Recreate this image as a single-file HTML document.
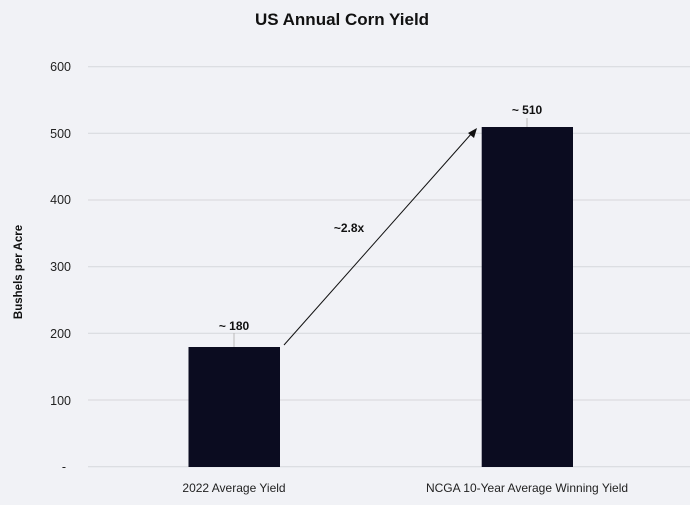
<!DOCTYPE html>
<html><head><style>
body{margin:0;background:#f1f2f6;}
svg{display:block;font-family:"Liberation Sans",sans-serif;}
</style></head><body>
<svg width="690" height="505" viewBox="0 0 690 505">
<rect width="690" height="505" fill="#f1f2f6"/>
<text x="342" y="25" text-anchor="middle" font-size="17" font-weight="bold" fill="#111">US Annual Corn Yield</text>
<g stroke="#d6d7db" stroke-width="1">
<line x1="88" x2="690" y1="66.7" y2="66.7"/>
<line x1="88" x2="690" y1="133.3" y2="133.3"/>
<line x1="88" x2="690" y1="200" y2="200"/>
<line x1="88" x2="690" y1="266.7" y2="266.7"/>
<line x1="88" x2="690" y1="333.3" y2="333.3"/>
<line x1="88" x2="690" y1="400" y2="400"/>
<line x1="88" x2="690" y1="466.7" y2="466.7"/>
</g>
<g font-size="12.5" fill="#222" text-anchor="end">
<text x="71" y="71">600</text>
<text x="71" y="138">500</text>
<text x="71" y="204">400</text>
<text x="71" y="271">300</text>
<text x="71" y="338">200</text>
<text x="71" y="405">100</text>
<text x="66" y="471">-</text>
</g>
<text transform="translate(22,272) rotate(-90)" text-anchor="middle" font-size="11.5" font-weight="bold" fill="#111">Bushels per Acre</text>
<rect x="188.5" y="347" width="91.5" height="120" fill="#0b0c20"/>
<rect x="481.7" y="127" width="91.3" height="340" fill="#0b0c20"/>
<line x1="234" x2="234" y1="333" y2="347" stroke="#bbb"/>
<line x1="527" x2="527" y1="118" y2="127" stroke="#bbb"/>
<text x="234" y="330" text-anchor="middle" font-size="12" font-weight="bold" fill="#111">~ 180</text>
<text x="527" y="114" text-anchor="middle" font-size="12" font-weight="bold" fill="#111">~ 510</text>
<text x="349" y="232" text-anchor="middle" font-size="12" font-weight="bold" fill="#111">~2.8x</text>
<line x1="284" y1="345" x2="472" y2="133" stroke="#111" stroke-width="1"/>
<polygon points="477,128 468,133 474,138" fill="#111"/>
<g font-size="12" fill="#222" text-anchor="middle">
<text x="234" y="492">2022 Average Yield</text>
<text x="527" y="492">NCGA 10-Year Average Winning Yield</text>
</g>
</svg>
</body></html>
